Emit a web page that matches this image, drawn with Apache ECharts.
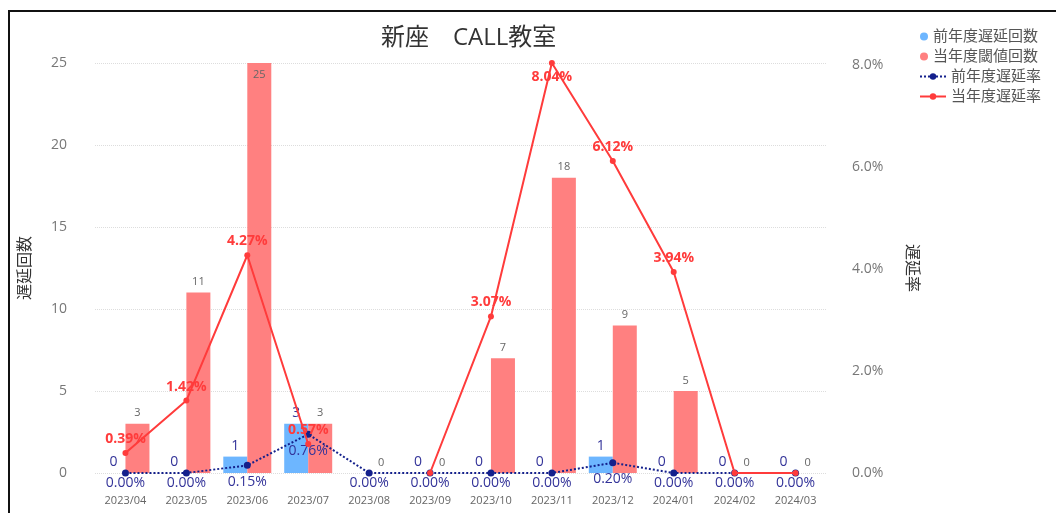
<!DOCTYPE html>
<html>
<head>
<meta charset="utf-8">
<script src="https://cdn.jsdelivr.net/npm/echarts@6/dist/echarts.min.js"></script>
<style>
  html, body { margin: 0; padding: 0; background: #fff; }
  #frame { position: absolute; left: 8px; top: 10px; right: 0; bottom: 0; border-top: 2px solid #111; border-left: 2px solid #111; pointer-events: none; }
  #main { position: absolute; left: 0; top: 0; width: 1056px; height: 513px; }
</style>
</head>
<body>
<div id="main"></div>
<div id="frame"></div>
<script>
// 月
const months = ['2023/04', '2023/05', '2023/06', '2023/07', '2023/08', '2023/09', '2023/10', '2023/11', '2023/12', '2024/01', '2024/02', '2024/03']
// 回数
const prevCount = [0, 0, 1, 3, '-', 0, 0, 0, 1, 0, 0, 0]
const curCount = [3, 11, 25, 3, 0, 0, 7, 18, 9, 5, 0, 0]
// 遅延率 (%)
const prevRate = [0, 0, 0.15, 0.76, 0, 0, 0, 0, 0.20, 0, 0, 0]
const curRate = [0.39, 1.42, 4.27, 0.57, '-', 0, 3.07, 8.04, 6.12, 3.94, 0, 0]
// 軸
const countTicks = { min: 0, max: 25, interval: 5 }
const rateTicks = { min: 0, interval: 2 }

const font = "'Open Sans', 'Noto Sans CJK JP', sans-serif"
const maxCount = Math.max(...curCount)
const maxRate = Math.max(...curRate.filter(v => v !== '-'))

let mychart = echarts.init(document.getElementById('main'))
var option = {
  textStyle: { fontFamily: font },
  title: {
    text: '新座　CALL教室',
    left: 376,
    top: 21,
    textStyle: { fontSize: 24, fontWeight: 'normal', color: '#333', fontFamily: font }
  },
  legend: [
    {
      orient: 'vertical',
      left: 915,
      top: 24,
      itemGap: 5,
      itemWidth: 8,
      itemHeight: 8,
      icon: 'circle',
      textStyle: { fontSize: 15, color: '#555', fontFamily: font },
      data: ['前年度遅延回数', '当年度閾値回数']
    },
    {
      orient: 'vertical',
      left: 914,
      top: 64,
      itemGap: 5,
      itemWidth: 26,
      itemHeight: 8,
      textStyle: { fontSize: 15, color: '#555', fontFamily: font },
      data: ['前年度遅延率', '当年度遅延率']
    }
  ],
  grid: { left: 95, right: 230, top: 63, bottom: 40 },
  xAxis: {
    type: 'category',
    data: months,
    axisLine: { show: false },
    axisTick: { show: false },
    axisLabel: { color: '#666', fontSize: 11, margin: 22, fontFamily: font }
  },
  yAxis: [
    {
      type: 'value',
      name: '遅延回数',
      nameLocation: 'middle',
      nameGap: 62,
      nameTextStyle: { fontSize: 16, color: '#333', fontFamily: font },
      min: countTicks.min,
      max: countTicks.max,
      interval: countTicks.interval,
      axisLabel: { color: '#777', fontSize: 14, margin: 28, fontFamily: font },
      splitLine: { lineStyle: { type: 'dotted', color: '#ddd' } }
    },
    {
      type: 'value',
      name: '遅延率',
      nameLocation: 'middle',
      nameGap: 78,
      nameRotate: -90,
      nameTextStyle: { fontSize: 16, color: '#333', fontFamily: font },
      min: rateTicks.min,
      max: 'dataMax',
      interval: rateTicks.interval,
      axisLabel: {
        color: '#777', fontSize: 14, margin: 26, fontFamily: font, showMaxLabel: false,
        formatter: v => v.toFixed(1) + '%'
      },
      splitLine: { show: false }
    }
  ],
  series: [
    {
      name: '前年度遅延回数',
      type: 'bar',
      barWidth: 24,
      barGap: 0,
      itemStyle: { color: '#6db6ff' },
      label: { show: true, position: 'top', distance: 4, color: '#333399', fontSize: 14 },
      data: prevCount
    },
    {
      name: '当年度閾値回数',
      type: 'bar',
      barWidth: 24,
      barGap: 0,
      itemStyle: { color: '#ff8080' },
      label: { show: true, position: 'top', distance: 5, color: '#666', fontSize: 11 },
      data: curCount.map(v => v === maxCount ? { value: v, label: { position: 'insideTop', distance: 6 } } : v)
    },
    {
      name: '前年度遅延率',
      type: 'line',
      yAxisIndex: 1,
      symbol: 'circle',
      symbolSize: 7,
      itemStyle: { color: '#14208c' },
      lineStyle: { type: 'dotted', width: 2, color: '#14208c' },
      label: {
        show: true, position: 'bottom', distance: 0, color: '#333399', fontSize: 14,
        formatter: p => p.value.toFixed(2) + '%'
      },
      z: 4,
      data: prevRate.map(v => v > 0 ? { value: v, label: { distance: 6 } } : v)
    },
    {
      name: '当年度遅延率',
      type: 'line',
      yAxisIndex: 1,
      symbol: 'circle',
      symbolSize: 6,
      itemStyle: { color: '#ff3b3b' },
      lineStyle: { width: 2, color: '#ff3b3b' },
      label: {
        show: true, position: 'top', distance: 4, color: '#ff3b3b', fontSize: 14, fontWeight: 'bold',
        formatter: p => p.value ? p.value.toFixed(2) + '%' : ''
      },
      z: 5,
      data: curRate.map(v => v === maxRate ? { value: v, label: { position: 'bottom' } } : v)
    }
  ]
}
mychart.setOption(option)
</script>
</body>
</html>
